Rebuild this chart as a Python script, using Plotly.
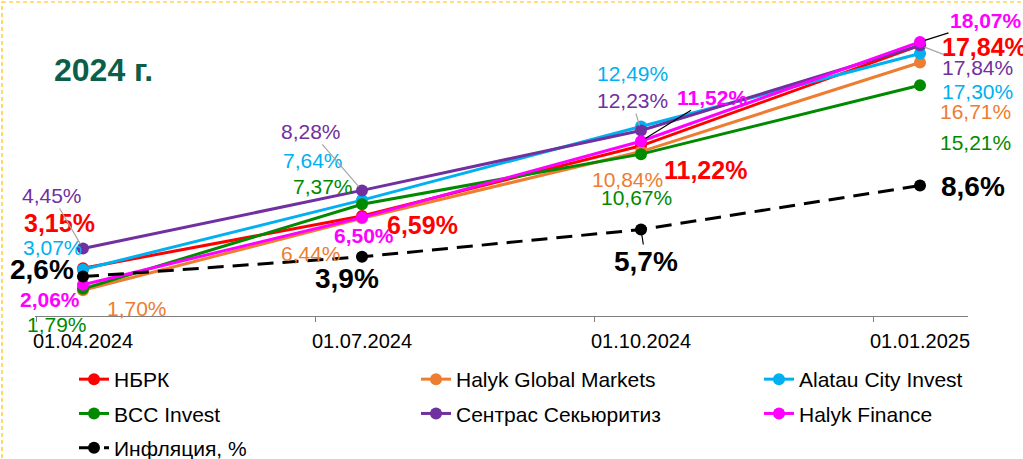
import plotly.graph_objects as go

# --- data
dates = ["01.04.2024", "01.07.2024", "01.10.2024", "01.01.2025"]
nbrk = [3.15, 6.59, 11.22, 17.84]
halyk_gm = [1.70, 6.44, 10.84, 16.71]
alatau = [3.07, 7.64, 12.49, 17.30]
bcc = [1.79, 7.37, 10.67, 15.21]
centras = [4.45, 8.28, 12.23, 17.84]
halyk_fin = [2.06, 6.50, 11.52, 18.07]
inflation = [2.6, 3.9, 5.7, 8.6]
title_text = "2024 г."

xs = list(range(len(dates)))
FONT = "Arial, Liberation Sans, sans-serif"

# name, values, color, label font size, bold, decimals, legend, leader color
series = [
    ("НБРК", nbrk, "#FF0000", 25, True, 2, "legend", None),
    ("Halyk Global Markets", halyk_gm, "#ED7D31", 21, False, 2, "legend2", None),
    ("Alatau City Invest", alatau, "#00B0F0", 21, False, 2, "legend3", None),
    ("BCC Invest", bcc, "#008A00", 21, False, 2, "legend", None),
    ("Сентрас Секьюритиз", centras, "#7030A0", 21, False, 2, "legend2", "#A6A6A6"),
    ("Halyk Finance", halyk_fin, "#FF00FF", 21, True, 2, "legend3", "#000000"),
    ("Инфляция, %", inflation, "#000000", 28, True, 1, "legend", "#000000"),
]

# label offsets from the point, pixels (dx, dy down), and whether a leader line is drawn
label_pos = {
    "НБРК": [(-23, -45, 0), (60, 9, 0), (64, 24, 0), (64, 2, 0)],
    "Halyk Global Markets": [(54, 18, 0), (-51, 35, 0), (-14, 28, 0), (55, 49, 0)],
    "Alatau City Invest": [(-30, -22, 0), (-49, -40, 0), (-9, -53, 0), (57, 38, 0)],
    "BCC Invest": [(-26, 36, 0), (-39, -18, 0), (-5, 43, 0), (55, 57, 0)],
    "Сентрас Секьюритиз": [(-31, -53, 1), (-51, -59, 1), (-9, -30, 1), (57, 22, 1)],
    "Halyk Finance": [(-33, 15, 0), (2, 18, 0), (71, -44, 1), (66, -21, 1)],
    "Инфляция, %": [(-41, -7, 0), (-15, 22, 0), (5, 32, 1), (53, 1, 0)],
}

fig = go.Figure()
annotations = []

for i, (name, vals, color, fsize, bold, dec, leg, lead_col) in enumerate(series):
    dashed = name.startswith("Инфляция")
    fig.add_trace(go.Scatter(
        x=xs, y=vals, name=name, mode="lines+markers",
        line=dict(color=color, width=3, dash="16px,9px" if dashed else "solid"),
        marker=dict(color=color, size=12),
        legend=leg, legendgroup=name))

    for j, v in enumerate(vals):
        txt = f"{v:.{dec}f}".replace(".", ",") + "%"
        if bold:
            txt = "<b>" + txt + "</b>"
        dx, dy, lead = label_pos[name][j]
        font = dict(family=FONT, size=fsize, color=color)
        if lead:
            annotations.append(dict(
                x=xs[j], y=v, xref="x", yref="y", text=txt, font=font,
                showarrow=True, ax=dx, ay=dy, axref="pixel", ayref="pixel",
                arrowhead=0, arrowwidth=1.2, arrowcolor=lead_col, standoff=5))
        else:
            annotations.append(dict(
                x=xs[j], y=v, xref="x", yref="y", text=txt, font=font,
                showarrow=False, xshift=dx, yshift=-dy))

# --- geometry
W, H = 1023, 459
ML, MR, MT, MB = 35, 55, 10, 143
pw, ph = W - ML - MR, H - MT - MB


def px_x(p):
    return (p - ML) / pw


def px_y(p):
    return (H - MB - p) / ph


annotations.append(dict(
    x=px_x(52), y=px_y(70), xref="paper", yref="paper", xanchor="left",
    yanchor="middle", text="<b>" + title_text + "</b>", showarrow=False,
    font=dict(family=FONT, size=32, color="#0B5E47")))

leg_common = dict(orientation="v", xanchor="left", yanchor="top",
                  font=dict(family=FONT, size=21, color="#000000"),
                  bgcolor="rgba(0,0,0,0)", tracegroupgap=4, itemwidth=30)

fig.update_layout(
    width=W, height=H,
    margin=dict(l=ML, r=MR, t=MT, b=MB, autoexpand=False),
    paper_bgcolor="white", plot_bgcolor="white",
    annotations=annotations,
    legend=dict(x=px_x(74), y=px_y(359), **leg_common),
    legend2=dict(x=px_x(416), y=px_y(359), **leg_common),
    legend3=dict(x=px_x(759), y=px_y(359), **leg_common),
    shapes=[dict(type="rect", xref="paper", yref="paper",
                 x0=px_x(2), x1=px_x(1040), y0=px_y(2), y1=px_y(480),
                 line=dict(color="#FFC000", width=1.2, dash="4px,3px"))],
)

fig.update_xaxes(
    range=[-0.172, 3.172], tickmode="array", tickvals=xs, ticktext=dates,
    ticks="", showgrid=False, zeroline=False, ticklabelstandoff=7,
    showline=True, linecolor="#808080", linewidth=1,
    tickfont=dict(family=FONT, size=20, color="#000000"),
    minor=dict(tickmode="array", tickvals=[x - 0.168 for x in xs],
               ticks="outside", ticklen=5, tickcolor="#808080", showgrid=False))
fig.update_yaxes(range=[0, ph / 15.17], visible=False)

fig.write_html("out.html", config={"displayModeBar": False},
               post_script="document.body.style.margin='0px';")
